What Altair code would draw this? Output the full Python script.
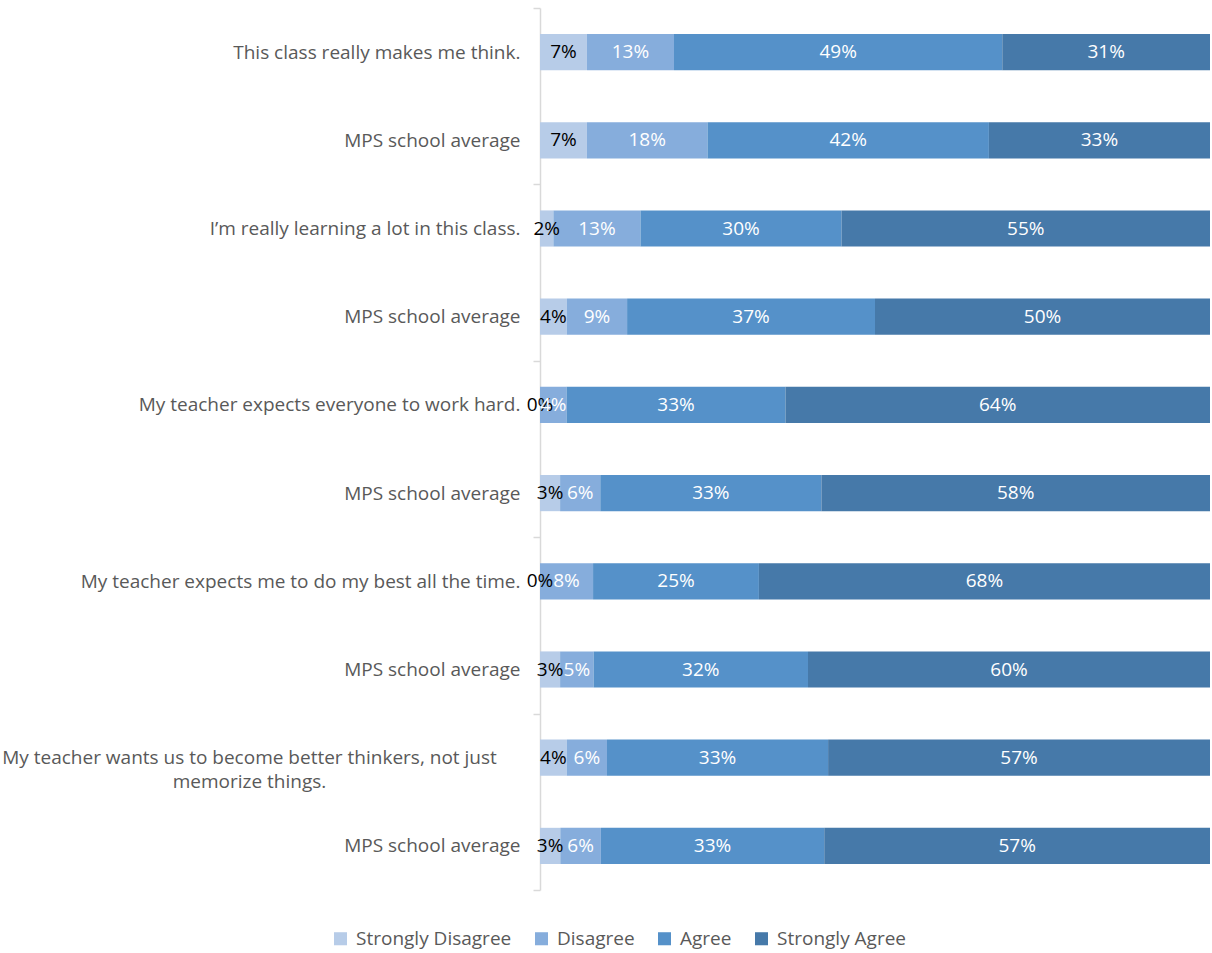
import altair as alt
import pandas as pd
import json

questions = [
    "This class really makes me think.",
    "MPS school average",
    "I\u2019m really learning a lot in this class.",
    "MPS school average",
    "My teacher expects everyone to work hard.",
    "MPS school average",
    "My teacher expects me to do my best all the time.",
    "MPS school average",
    ["My teacher wants us to become better thinkers, not just", "memorize things."],
    "MPS school average",
]
categories = ["Strongly Disagree", "Disagree", "Agree", "Strongly Agree"]
strongly_disagree = [7, 7, 2, 4, 0, 3, 0, 3, 4, 3]
disagree = [13, 18, 13, 9, 4, 6, 8, 5, 6, 6]
agree = [49, 42, 30, 37, 33, 33, 25, 32, 33, 33]
strongly_agree = [31, 33, 55, 50, 64, 58, 68, 60, 57, 57]
colors = ["#B7CCE8", "#86ADDC", "#5591C9", "#4679A9"]
text_colors = ["#000000", "#FFFFFF", "#FFFFFF", "#FFFFFF"]

rows = []
series = [strongly_disagree, disagree, agree, strongly_agree]
for i in range(len(questions)):
    for k, cat in enumerate(categories):
        rows.append({
            "row": i,
            "category": cat,
            "order": k,
            "value": series[k][i],
            "label": f"{series[k][i]}%",
            "tcolor": text_colors[k],
        })
df = pd.DataFrame(rows)

label_expr = (
    "datum.value % 1 == 0.5 ? " + json.dumps(questions) + "[floor(datum.value)] : ''"
)

FONT = "Open Sans"
FS = 19

base = alt.Chart(df).transform_stack(
    stack="value", groupby=["row"], as_=["x0", "x1"], offset="normalize",
    sort=[alt.SortField("order", order="ascending")],
).transform_calculate(
    xm="(datum.x0 + datum.x1) / 2",
    yt="datum.row + 0.295",
    yb="datum.row + 0.705",
    yc="datum.row + 0.5",
)

yscale = alt.Scale(domain=[0, 10], reverse=True, nice=False, zero=False)
xscale = alt.Scale(domain=[0, 1], nice=False, zero=True)

yaxis = alt.Axis(
    values=[v / 2 for v in range(0, 21)],
    labelExpr=label_expr,
    labelOverlap=False,
    labelFont=FONT,
    labelFontSize=FS,
    labelColor="#595959",
    labelPadding={"condition": {"test": "datum.value == 8.5", "value": 284}, "value": 13},
    labelAlign={"condition": {"test": "datum.value == 8.5", "value": "center"}, "value": "right"},
    labelLimit=600,
    labelLineHeight=24,
    tickSize=7,
    tickColor="#D9D9D9",
    tickWidth=1.5,
    tickOpacity={"condition": {"test": "datum.value % 2 == 0", "value": 1}, "value": 0},
    domainColor="#D9D9D9",
    domainWidth=1.5,
    grid=False,
)

bars = base.mark_bar().encode(
    x=alt.X("x0:Q", scale=xscale, axis=None),
    x2="x1:Q",
    y=alt.Y("yt:Q", scale=yscale, title=None, axis=yaxis),
    y2="yb:Q",
    color=alt.Color(
        "category:N",
        scale=alt.Scale(domain=categories, range=colors),
        legend=alt.Legend(
            title=None,
            orient="none",
            direction="horizontal",
            legendX=-209,
            legendY=921,
            symbolType="square",
            symbolSize=170,
            symbolStrokeWidth=0,
            labelFont=FONT,
            labelFontSize=FS,
            labelColor="#595959",
            columnPadding=20,
            labelOffset=6,
        ),
    ),
)

texts = base.mark_text(font=FONT, fontSize=FS, baseline="middle", align="center").encode(
    x=alt.X("xm:Q", scale=xscale),
    y=alt.Y("yc:Q", scale=yscale),
    text="label:N",
    color=alt.Color("tcolor:N", scale=None),
)

chart = alt.layer(bars, texts).properties(
    width=670,
    height=882,
    autosize=alt.AutoSizeParams(type="none"),
    padding={"left": 540, "top": 8, "right": 2, "bottom": 63},
).configure_view(stroke=None)

chart.save("out.html", embed_options={"renderer": "svg", "actions": False})
